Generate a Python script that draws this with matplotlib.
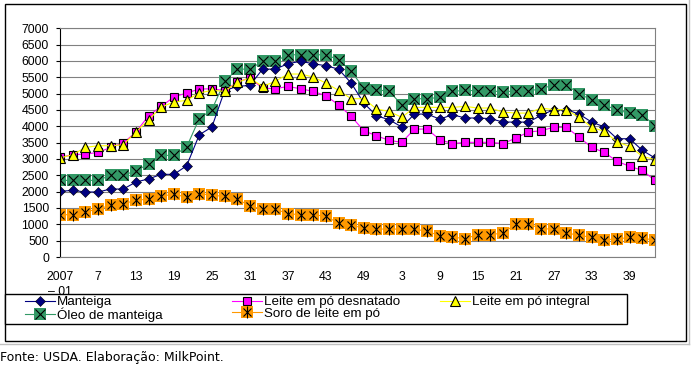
import matplotlib.pyplot as plt
from matplotlib.lines import Line2D
from matplotlib.patches import Rectangle
import numpy as np

plt.rcParams['font.family'] = ['Liberation Sans', 'DejaVu Sans']

# semanas (rotulo a cada 3 pontos; dados quinzenais)
semanas = ['2007\n\u2013 01', '7', '13', '19', '25', '31', '37', '43', '49',
           '3', '9', '15', '21', '27', '33', '39']

manteiga = [2010, 2040, 1990, 1990, 2080, 2080, 2295, 2390, 2530, 2530,
            2790, 3740, 3980, 5090, 5225, 5250, 5750, 5750, 5915, 5990,
            5915, 5855, 5750, 5325, 4710, 4325, 4200, 3980, 4375, 4375,
            4220, 4355, 4255, 4255, 4235, 4130, 4130, 4130, 4335, 4510,
            4510, 4375, 4130, 3980, 3620, 3620, 3265, 3030]
desnatado = [3050, 3130, 3150, 3200, 3355, 3490, 3825, 4325, 4610, 4900,
             5020, 5140, 5150, 5090, 5355, 5480, 5170, 5150, 5220, 5150,
             5070, 4935, 4660, 4305, 3865, 3710, 3570, 3510, 3915, 3915,
             3590, 3470, 3510, 3510, 3510, 3470, 3640, 3825, 3865, 3970,
             3970, 3670, 3355, 3200, 2930, 2775, 2650, 2345]
integral = [3030, 3130, 3355, 3405, 3405, 3435, 3825, 4200, 4590, 4745,
            4795, 5020, 5100, 5070, 5345, 5480, 5220, 5375, 5600, 5600,
            5510, 5325, 5100, 4845, 4845, 4530, 4455, 4275, 4580, 4580,
            4580, 4580, 4610, 4560, 4560, 4435, 4405, 4405, 4560, 4510,
            4510, 4275, 3970, 3845, 3520, 3385, 3080, 2980]
oleo = [2345, 2345, 2345, 2345, 2500, 2500, 2640, 2845, 3110, 3110,
        3365, 4235, 4510, 5375, 5750, 5750, 5990, 5990, 6190, 6190,
        6190, 6190, 6040, 5680, 5170, 5120, 5070, 4660, 4845, 4845,
        4885, 5070, 5100, 5090, 5090, 5050, 5090, 5090, 5140, 5275,
        5275, 4990, 4815, 4660, 4490, 4405, 4355, 4020]
soro = [1295, 1295, 1375, 1470, 1580, 1630, 1735, 1775, 1855, 1930,
        1825, 1940, 1890, 1855, 1785, 1550, 1470, 1470, 1325, 1295,
        1295, 1245, 1040, 970, 885, 855, 855, 855, 855, 785,
        655, 610, 560, 685, 685, 735, 1010, 1010, 865, 855,
        735, 665, 600, 530, 550, 600, 580, 510]

W, H = 691, 365
fig = plt.figure(figsize=(W / 100, H / 100), dpi=100)
ax = fig.add_axes([60 / W, 1 - 257 / H, 595 / W, 228.7 / H])

x = np.arange(len(manteiga))

# oleo e soro: quadrado colorido com simbolo preto por cima
o1, = ax.plot(x, oleo, color='#339966', lw=0.8, marker='s', ms=9, mew=0)
o2, = ax.plot(x, oleo, ls='none', marker='x', ms=7, mew=0.8, color='black')
s1, = ax.plot(x, soro, color='#FF9900', lw=0.8, marker='s', ms=9, mew=0)
s2, = ax.plot(x, soro, ls='none', marker='x', ms=6, mew=0.8, color='black')
s3, = ax.plot(x, soro, ls='none', marker='|', ms=8, mew=0.8, color='black')
m1, = ax.plot(x, manteiga, color='#000080', lw=0.8, marker='D', ms=5,
              mfc='#000080', mec='black', mew=0.4)
d1, = ax.plot(x, desnatado, color='#FF00FF', lw=0.8, marker='s', ms=6,
              mec='black', mew=0.8)
i1, = ax.plot(x, integral, color='#FFFF00', lw=0.8, marker='^', ms=7,
              mec='black', mew=0.8)

ax.set_xlim(0, len(manteiga) - 1)
ax.set_ylim(0, 7000)
ax.set_yticks(np.arange(0, 7001, 500))
ax.set_xticks(np.arange(0, len(semanas) * 3, 3))
ax.set_xticklabels(semanas, linespacing=1.3)
ax.tick_params(axis='x', length=0, pad=10, labelsize=8.8)
ax.tick_params(axis='y', length=3, width=0.8, pad=5, labelsize=8.8)
ax.grid(axis='y', color='#808080', lw=0.8)
ax.set_axisbelow(True)
for s in ['top', 'right', 'bottom']:
    ax.spines[s].set_color('#808080')
    ax.spines[s].set_linewidth(0.8)
ax.spines['left'].set_linewidth(0.8)

# moldura externa e sombra
fig.patches.append(Rectangle((4.5 / W, 1 - 341 / H), 681 / W, 337 / H,
                             transform=fig.transFigure, fill=False,
                             ec='black', lw=1))
fig.lines.append(Line2D([0, 689 / W], [1 - 344 / H] * 2,
                        transform=fig.transFigure, color='#c0c0c0', lw=1))
fig.lines.append(Line2D([689 / W] * 2, [1, 1 - 344 / H],
                        transform=fig.transFigure, color='#c0c0c0', lw=1))

# legenda
fig.patches.append(Rectangle((4.5 / W, 1 - 324 / H), 622.5 / W, 30 / H,
                             transform=fig.transFigure, fc='white',
                             ec='black', lw=1, zorder=3))
leg_kw = dict(frameon=False, loc='upper left', fontsize=9.6,
              handlelength=2.25, handletextpad=0.15, labelspacing=-0.08,
              borderpad=0, borderaxespad=0)
fig.legend([m1, (o1, o2)], ['Manteiga', 'Óleo de manteiga'],
           bbox_to_anchor=(25 / W, 1 - 296 / H), **leg_kw)
fig.legend([d1, (s1, s2, s3)], ['Leite em pó desnatado', 'Soro de leite em pó'],
           bbox_to_anchor=(232 / W, 1 - 296 / H), **leg_kw)
fig.legend([i1], ['Leite em pó integral'],
           bbox_to_anchor=(440 / W, 1 - 296 / H), **leg_kw)

fig.text(0, 1 - 357 / H, 'Fonte: USDA. Elaboração: MilkPoint.',
         family='DejaVu Sans', fontsize=9, va='center')

plt.savefig('out.png', dpi=100)
